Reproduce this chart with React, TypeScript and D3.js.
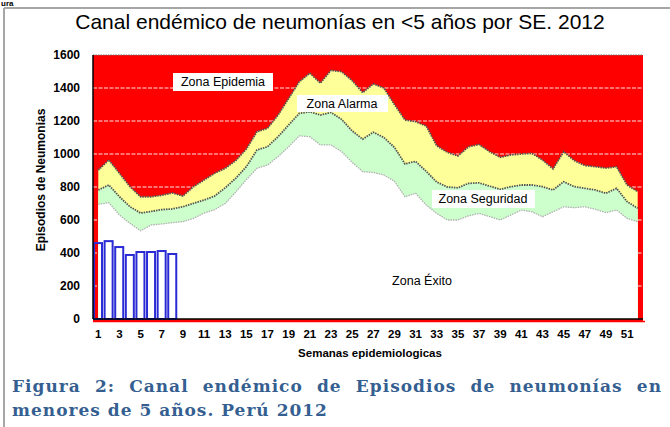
import React, { useEffect, useRef } from "react";
import * as d3 from "d3";

// semanas epidemiologicas
const weeks = [
  1, 2, 3, 4, 5, 6, 7, 8, 9, 10, 11, 12, 13, 14, 15, 16, 17, 18, 19, 20, 21, 22, 23, 24, 25, 26,
  27, 28, 29, 30, 31, 32, 33, 34, 35, 36, 37, 38, 39, 40, 41, 42, 43, 44, 45, 46, 47, 48, 49, 50, 51, 52,
];
const weekLabels = [1, 3, 5, 7, 9, 11, 13, 15, 17, 19, 21, 23, 25, 27, 29, 31, 33, 35, 37, 39, 41, 43, 45, 47, 49, 51];
const yTicks = [0, 200, 400, 600, 800, 1000, 1200, 1400, 1600];

// limite superior zona exito (blanco)
const exito = [
  695, 705, 630, 580, 535, 570, 576, 584, 590, 610, 642, 663, 700, 770, 845, 913, 933, 984, 1044, 1110,
  1105, 1055, 1055, 1015, 950, 893, 888, 873, 835, 741, 762, 691, 640, 600, 600, 625, 640, 620, 600, 630,
  660, 650, 620, 650, 680, 675, 680, 665, 645, 660, 610, 590,
];
// limite superior zona seguridad (verde)
const seguridad = [
  782, 812, 741, 680, 642, 652, 663, 667, 680, 701, 721, 745, 795, 853, 923, 1024, 1044, 1105, 1176, 1246,
  1256, 1236, 1252, 1210, 1140, 1090, 1132, 1100, 1040, 940, 955, 895, 830, 800, 795, 822, 825, 805, 786, 802,
  812, 812, 802, 782, 832, 802, 792, 782, 762, 792, 711, 671,
];
// limite superior zona alarma (amarillo)
const alarma = [
  903, 964, 883, 802, 741, 741, 750, 764, 745, 802, 842, 883, 913, 960, 1030, 1135, 1156, 1236, 1337, 1438,
  1490, 1430, 1507, 1499, 1445, 1372, 1425, 1400, 1300, 1206, 1196, 1170, 1050, 1010, 988, 1044, 1058, 1014, 980, 994,
  1000, 1004, 964, 910, 1014, 960, 930, 923, 915, 923, 812, 772,
];
// casos 2012
const casosWeeks = [1, 2, 3, 4, 5, 6, 7, 8];
const casos = [460, 472, 436, 388, 406, 406, 412, 394];

const left = 93, right = 643, top = 55, bottom = 319;

function App() {
  const line1Ref = useRef<SVGTextElement>(null);

  const x = d3.scaleBand<number>().domain(weeks).range([left, right]).padding(0);
  const xb = d3.scaleBand<number>().domain(weeks).range([left, right]).paddingInner(0.15).paddingOuter(0);
  const y = d3.scaleLinear().domain([0, 1600]).range([bottom, top]);
  const cx = (w: number) => (x(w) as number) + x.bandwidth() / 2;

  const areaOf = (vals: number[]) =>
    d3.area<number>().x((d, i) => cx(weeks[i])).y0(y(0)).y1((d) => y(d))(vals) as string;
  const lineOf = (vals: number[]) =>
    d3.line<number>().x((d, i) => cx(weeks[i])).y((d) => y(d))(vals) as string;

  // justificar la primera linea del pie de figura
  useEffect(() => {
    const el = line1Ref.current;
    if (!el) return;
    const t = d3.select(el).attr("word-spacing", 0);
    const natural = el.getComputedTextLength();
    const spaces = (el.textContent || "").split(" ").length - 1;
    t.attr("word-spacing", Math.max(0, (650 - natural) / spaces));
  }, []);

  const font = "Arial, 'Liberation Sans', sans-serif";
  const capFont = "'DejaVu Serif', serif";

  return (
    <svg width={670} height={427} style={{ position: "absolute", left: 0, top: 0, background: "#fff" }}>
      <text x={1} y={6} fontFamily={font} fontWeight="bold" fontSize={8} fill="#000">ura</text>
      <line x1={4} y1={8} x2={670} y2={8} stroke="#a6a6a6" strokeWidth={2} />
      <line x1={4} y1={8} x2={4} y2={427} stroke="#a6a6a6" strokeWidth={2} />

      <text x={340} y={29} textAnchor="middle" fontFamily={font} fontSize={21} fill="#000">
        Canal endémico de neumonías en &lt;5 años por SE. 2012
      </text>

      {/* fondo: zona epidemia */}
      <rect x={left} y={top} width={right - left} height={bottom - top + 3} fill="#ff0000" />
      {yTicks.slice(1, -1).map((t) => (
        <line key={t} x1={left} x2={right} y1={y(t)} y2={y(t)} stroke="#ffe4e4" strokeWidth={1} strokeDasharray="4 1.5" />
      ))}
      <line x1={left} x2={right} y1={top} y2={top} stroke="#777" strokeWidth={1} strokeDasharray="1.5 1" />

      <path d={areaOf(alarma)} fill="#ffff99" />
      <path d={areaOf(seguridad)} fill="#ccffcc" />
      <path d={areaOf(exito)} fill="#ffffff" />
      <path d={lineOf(alarma)} fill="none" stroke="#555" strokeWidth={1.8} strokeDasharray="1.5 1" />
      <path d={lineOf(seguridad)} fill="none" stroke="#555" strokeWidth={1.8} strokeDasharray="1.5 1" />
      <path d={lineOf(exito)} fill="none" stroke="#b0b0b0" strokeWidth={1.3} strokeDasharray="1.5 1" />

      {casos.map((v, i) => (
        <rect
          key={i}
          x={(xb(casosWeeks[i]) as number) + 1}
          y={y(v)}
          width={xb.bandwidth() - 1}
          height={y(0) - y(v)}
          fill="none"
          stroke="#2b2bd6"
          strokeWidth={2}
        />
      ))}

      {/* ejes */}
      <line x1={left} x2={left} y1={top} y2={bottom} stroke="#000" strokeWidth={1.5} />
      <line x1={left} x2={right} y1={bottom} y2={bottom} stroke="#000" strokeWidth={1.5} />
      <line x1={left} x2={right + 2} y1={bottom + 2.5} y2={bottom + 2.5} stroke="#ff0000" strokeWidth={1.5} />

      {yTicks.map((t) => (
        <text key={t} x={80} y={y(t) + 4} textAnchor="end" fontFamily={font} fontWeight="bold" fontSize={12} fill="#000">
          {t}
        </text>
      ))}
      {weekLabels.map((w) => (
        <text key={w} x={cx(w)} y={338} textAnchor="middle" fontFamily={font} fontWeight="bold" fontSize={11.5} fill="#000">
          {w}
        </text>
      ))}
      <text x={370} y={357} textAnchor="middle" fontFamily={font} fontWeight="bold" fontSize={11.5} fill="#000">
        Semanas epidemiologicas
      </text>
      <text
        transform={`translate(45,${(top + bottom) / 2 - 7}) rotate(-90)`}
        textAnchor="middle"
        fontFamily={font}
        fontWeight="bold"
        fontSize={12}
        fill="#000"
      >
        Episodios de Neumonias
      </text>

      {/* etiquetas de zonas */}
      <rect x={173} y={73} width={100} height={18} fill="#fff" />
      <text x={223} y={86} textAnchor="middle" fontFamily={font} fontSize={12.5} fill="#000">Zona Epidemia</text>
      <rect x={297} y={95} width={91} height={17} fill="#fff" />
      <text x={342} y={108} textAnchor="middle" fontFamily={font} fontSize={12.5} fill="#000">Zona Alarma</text>
      <rect x={432} y={190} width={103} height={18} fill="#fff" />
      <text x={483} y={203} textAnchor="middle" fontFamily={font} fontSize={12.5} fill="#000">Zona Seguridad</text>
      <text x={422} y={285} textAnchor="middle" fontFamily={font} fontSize={12.5} fill="#000">Zona Éxito</text>

      {/* pie de figura */}
      <text ref={line1Ref} x={12} y={392} fontFamily={capFont} fontWeight="bold" fontSize={17} letterSpacing={1} fill="#365f91">
        Figura 2: Canal endémico de Episodios de neumonías en
      </text>
      <text x={12} y={416} fontFamily={capFont} fontWeight="bold" fontSize={17} letterSpacing={1} fill="#365f91">
        menores de 5 años. Perú 2012
      </text>
    </svg>
  );
}

export default App;
